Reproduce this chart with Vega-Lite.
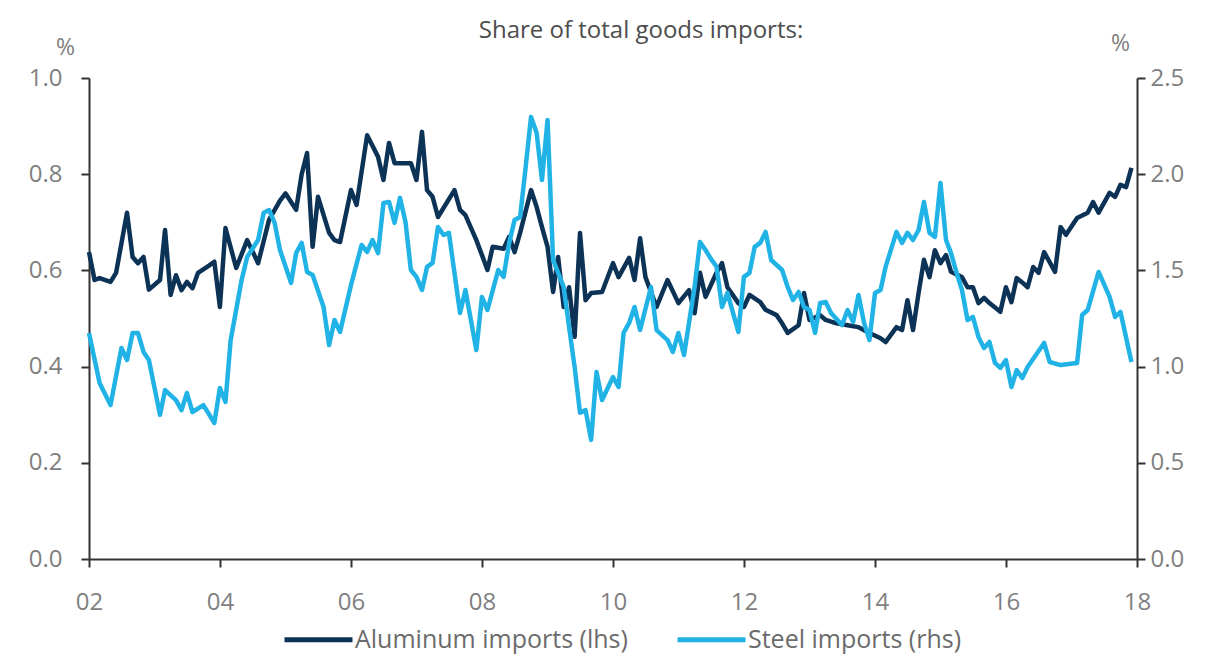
{
  "$schema": "https://vega.github.io/schema/vega-lite/v6.json",
  "width": 1048,
  "height": 481,
  "autosize": {"type": "none"},
  "padding": {"left": 89, "top": 78, "right": 88, "bottom": 101},
  "background": "white",
  "title": {
    "text": "Share of total goods imports:",
    "anchor": "middle",
    "dx": 28,
    "dy": 11,
    "offset": 0,
    "font": "Open Sans",
    "fontSize": 24,
    "fontWeight": "normal",
    "color": "#4d4d4d"
  },
  "config": {
    "view": {"stroke": null},
    "font": "Open Sans",
    "axis": {
      "grid": false,
      "domainColor": "#333333",
      "domainWidth": 2,
      "tickColor": "#333333",
      "tickWidth": 2,
      "tickSize": 8,
      "labelColor": "#7f7f7f",
      "labelFont": "Open Sans",
      "labelFontSize": 24,
      "titleColor": "#7f7f7f",
      "titleFont": "Open Sans",
      "titleFontSize": 23,
      "titleFontWeight": "normal"
    },
    "legend": {
      "labelColor": "#6b6b6b",
      "labelFont": "Open Sans",
      "labelFontSize": 25,
      "labelLimit": 500
    }
  },
  "datasets": {
    "aluminum": [
      {"date": "2002-01", "share": 0.638}, {"date": "2002-02", "share": 0.58}, {"date": "2002-03", "share": 0.584},
      {"date": "2002-05", "share": 0.576}, {"date": "2002-06", "share": 0.595}, {"date": "2002-08", "share": 0.72},
      {"date": "2002-09", "share": 0.628}, {"date": "2002-10", "share": 0.615}, {"date": "2002-11", "share": 0.628},
      {"date": "2002-12", "share": 0.56}, {"date": "2003-02", "share": 0.58}, {"date": "2003-03", "share": 0.684},
      {"date": "2003-04", "share": 0.549}, {"date": "2003-05", "share": 0.59}, {"date": "2003-06", "share": 0.559},
      {"date": "2003-07", "share": 0.576}, {"date": "2003-08", "share": 0.563}, {"date": "2003-09", "share": 0.595},
      {"date": "2003-11", "share": 0.61}, {"date": "2003-12", "share": 0.618}, {"date": "2004-01", "share": 0.524},
      {"date": "2004-02", "share": 0.688}, {"date": "2004-04", "share": 0.605}, {"date": "2004-06", "share": 0.663},
      {"date": "2004-08", "share": 0.615}, {"date": "2004-10", "share": 0.705}, {"date": "2004-12", "share": 0.745},
      {"date": "2005-01", "share": 0.76}, {"date": "2005-03", "share": 0.726}, {"date": "2005-04", "share": 0.8},
      {"date": "2005-05", "share": 0.844}, {"date": "2005-06", "share": 0.649}, {"date": "2005-07", "share": 0.753},
      {"date": "2005-09", "share": 0.678}, {"date": "2005-10", "share": 0.663}, {"date": "2005-11", "share": 0.659},
      {"date": "2006-01", "share": 0.767}, {"date": "2006-02", "share": 0.736}, {"date": "2006-04", "share": 0.881},
      {"date": "2006-06", "share": 0.836}, {"date": "2006-07", "share": 0.788}, {"date": "2006-08", "share": 0.865},
      {"date": "2006-09", "share": 0.823}, {"date": "2006-12", "share": 0.823}, {"date": "2007-01", "share": 0.788},
      {"date": "2007-02", "share": 0.888}, {"date": "2007-03", "share": 0.767}, {"date": "2007-04", "share": 0.753},
      {"date": "2007-05", "share": 0.711}, {"date": "2007-08", "share": 0.767}, {"date": "2007-09", "share": 0.726},
      {"date": "2007-10", "share": 0.715}, {"date": "2007-12", "share": 0.663}, {"date": "2008-02", "share": 0.601},
      {"date": "2008-03", "share": 0.649}, {"date": "2008-05", "share": 0.645}, {"date": "2008-06", "share": 0.67},
      {"date": "2008-07", "share": 0.638}, {"date": "2008-08", "share": 0.678}, {"date": "2008-10", "share": 0.767},
      {"date": "2008-11", "share": 0.732}, {"date": "2008-12", "share": 0.69}, {"date": "2009-01", "share": 0.649},
      {"date": "2009-02", "share": 0.555}, {"date": "2009-03", "share": 0.628}, {"date": "2009-04", "share": 0.524},
      {"date": "2009-05", "share": 0.565}, {"date": "2009-06", "share": 0.462}, {"date": "2009-07", "share": 0.678},
      {"date": "2009-08", "share": 0.538}, {"date": "2009-09", "share": 0.553}, {"date": "2009-11", "share": 0.555},
      {"date": "2010-01", "share": 0.615}, {"date": "2010-02", "share": 0.586}, {"date": "2010-04", "share": 0.626},
      {"date": "2010-05", "share": 0.58}, {"date": "2010-06", "share": 0.667}, {"date": "2010-07", "share": 0.586},
      {"date": "2010-09", "share": 0.524}, {"date": "2010-11", "share": 0.58}, {"date": "2011-01", "share": 0.532},
      {"date": "2011-03", "share": 0.559}, {"date": "2011-04", "share": 0.511}, {"date": "2011-05", "share": 0.595},
      {"date": "2011-06", "share": 0.545}, {"date": "2011-08", "share": 0.595}, {"date": "2011-09", "share": 0.615},
      {"date": "2011-10", "share": 0.565}, {"date": "2011-12", "share": 0.532}, {"date": "2012-01", "share": 0.524},
      {"date": "2012-02", "share": 0.549}, {"date": "2012-04", "share": 0.534}, {"date": "2012-05", "share": 0.518},
      {"date": "2012-07", "share": 0.507}, {"date": "2012-08", "share": 0.49}, {"date": "2012-09", "share": 0.47},
      {"date": "2012-11", "share": 0.486}, {"date": "2012-12", "share": 0.553}, {"date": "2013-01", "share": 0.497},
      {"date": "2013-03", "share": 0.507}, {"date": "2013-04", "share": 0.497}, {"date": "2013-06", "share": 0.49},
      {"date": "2013-08", "share": 0.486}, {"date": "2013-10", "share": 0.482}, {"date": "2013-12", "share": 0.47},
      {"date": "2014-02", "share": 0.459}, {"date": "2014-03", "share": 0.451}, {"date": "2014-05", "share": 0.482},
      {"date": "2014-06", "share": 0.476}, {"date": "2014-07", "share": 0.538}, {"date": "2014-08", "share": 0.476},
      {"date": "2014-09", "share": 0.553}, {"date": "2014-10", "share": 0.622}, {"date": "2014-11", "share": 0.586},
      {"date": "2014-12", "share": 0.642}, {"date": "2015-01", "share": 0.615}, {"date": "2015-02", "share": 0.632},
      {"date": "2015-03", "share": 0.597}, {"date": "2015-05", "share": 0.586}, {"date": "2015-06", "share": 0.565},
      {"date": "2015-07", "share": 0.565}, {"date": "2015-08", "share": 0.532}, {"date": "2015-09", "share": 0.543},
      {"date": "2015-10", "share": 0.532}, {"date": "2015-12", "share": 0.514}, {"date": "2016-01", "share": 0.565},
      {"date": "2016-02", "share": 0.534}, {"date": "2016-03", "share": 0.584}, {"date": "2016-04", "share": 0.575},
      {"date": "2016-05", "share": 0.565}, {"date": "2016-06", "share": 0.607}, {"date": "2016-07", "share": 0.595},
      {"date": "2016-08", "share": 0.638}, {"date": "2016-10", "share": 0.597}, {"date": "2016-11", "share": 0.69},
      {"date": "2016-12", "share": 0.674}, {"date": "2017-02", "share": 0.709}, {"date": "2017-04", "share": 0.72},
      {"date": "2017-05", "share": 0.742}, {"date": "2017-06", "share": 0.72}, {"date": "2017-08", "share": 0.761},
      {"date": "2017-09", "share": 0.753}, {"date": "2017-10", "share": 0.778}, {"date": "2017-11", "share": 0.773},
      {"date": "2017-12", "share": 0.813}
    ],
    "steel": [
      {"date": "2002-01", "share": 1.175}, {"date": "2002-03", "share": 0.915}, {"date": "2002-05", "share": 0.8},
      {"date": "2002-07", "share": 1.097}, {"date": "2002-08", "share": 1.034}, {"date": "2002-09", "share": 1.175},
      {"date": "2002-10", "share": 1.175}, {"date": "2002-11", "share": 1.076}, {"date": "2002-12", "share": 1.034},
      {"date": "2003-02", "share": 0.749}, {"date": "2003-03", "share": 0.878}, {"date": "2003-05", "share": 0.826},
      {"date": "2003-06", "share": 0.774}, {"date": "2003-07", "share": 0.863}, {"date": "2003-08", "share": 0.764},
      {"date": "2003-10", "share": 0.8}, {"date": "2003-12", "share": 0.707}, {"date": "2004-01", "share": 0.889},
      {"date": "2004-02", "share": 0.816}, {"date": "2004-03", "share": 1.138}, {"date": "2004-05", "share": 1.45},
      {"date": "2004-06", "share": 1.57}, {"date": "2004-08", "share": 1.658}, {"date": "2004-09", "share": 1.8},
      {"date": "2004-10", "share": 1.814}, {"date": "2004-11", "share": 1.747}, {"date": "2004-12", "share": 1.606},
      {"date": "2005-02", "share": 1.435}, {"date": "2005-03", "share": 1.59}, {"date": "2005-04", "share": 1.643},
      {"date": "2005-05", "share": 1.492}, {"date": "2005-06", "share": 1.476}, {"date": "2005-08", "share": 1.31},
      {"date": "2005-09", "share": 1.112}, {"date": "2005-10", "share": 1.242}, {"date": "2005-11", "share": 1.18},
      {"date": "2006-01", "share": 1.424}, {"date": "2006-03", "share": 1.632}, {"date": "2006-04", "share": 1.596},
      {"date": "2006-05", "share": 1.658}, {"date": "2006-06", "share": 1.59}, {"date": "2006-07", "share": 1.85},
      {"date": "2006-08", "share": 1.856}, {"date": "2006-09", "share": 1.747}, {"date": "2006-10", "share": 1.877},
      {"date": "2006-11", "share": 1.752}, {"date": "2006-12", "share": 1.502}, {"date": "2007-01", "share": 1.466},
      {"date": "2007-02", "share": 1.398}, {"date": "2007-03", "share": 1.518}, {"date": "2007-04", "share": 1.539},
      {"date": "2007-05", "share": 1.726}, {"date": "2007-06", "share": 1.684}, {"date": "2007-07", "share": 1.695},
      {"date": "2007-09", "share": 1.279}, {"date": "2007-10", "share": 1.398}, {"date": "2007-12", "share": 1.086},
      {"date": "2008-01", "share": 1.362}, {"date": "2008-02", "share": 1.294}, {"date": "2008-04", "share": 1.502},
      {"date": "2008-05", "share": 1.466}, {"date": "2008-06", "share": 1.643}, {"date": "2008-07", "share": 1.762},
      {"date": "2008-08", "share": 1.778}, {"date": "2008-09", "share": 2.038}, {"date": "2008-10", "share": 2.298},
      {"date": "2008-11", "share": 2.215}, {"date": "2008-12", "share": 1.97}, {"date": "2009-01", "share": 2.282},
      {"date": "2009-02", "share": 1.554}, {"date": "2009-04", "share": 1.414}, {"date": "2009-05", "share": 1.206},
      {"date": "2009-06", "share": 0.998}, {"date": "2009-07", "share": 0.76}, {"date": "2009-08", "share": 0.774},
      {"date": "2009-09", "share": 0.619}, {"date": "2009-10", "share": 0.972}, {"date": "2009-11", "share": 0.826},
      {"date": "2010-01", "share": 0.946}, {"date": "2010-02", "share": 0.894}, {"date": "2010-03", "share": 1.175},
      {"date": "2010-04", "share": 1.227}, {"date": "2010-05", "share": 1.31}, {"date": "2010-06", "share": 1.19},
      {"date": "2010-08", "share": 1.414}, {"date": "2010-09", "share": 1.19}, {"date": "2010-11", "share": 1.138},
      {"date": "2010-12", "share": 1.076}, {"date": "2011-01", "share": 1.175}, {"date": "2011-02", "share": 1.06},
      {"date": "2011-04", "share": 1.414}, {"date": "2011-05", "share": 1.648}, {"date": "2011-06", "share": 1.606},
      {"date": "2011-07", "share": 1.56}, {"date": "2011-08", "share": 1.52}, {"date": "2011-09", "share": 1.31},
      {"date": "2011-10", "share": 1.383}, {"date": "2011-12", "share": 1.18}, {"date": "2012-01", "share": 1.466},
      {"date": "2012-02", "share": 1.487}, {"date": "2012-03", "share": 1.622}, {"date": "2012-04", "share": 1.643},
      {"date": "2012-05", "share": 1.7}, {"date": "2012-06", "share": 1.554}, {"date": "2012-08", "share": 1.502},
      {"date": "2012-09", "share": 1.414}, {"date": "2012-10", "share": 1.346}, {"date": "2012-11", "share": 1.388},
      {"date": "2012-12", "share": 1.31}, {"date": "2013-01", "share": 1.294}, {"date": "2013-02", "share": 1.175},
      {"date": "2013-03", "share": 1.331}, {"date": "2013-04", "share": 1.336}, {"date": "2013-05", "share": 1.279},
      {"date": "2013-07", "share": 1.216}, {"date": "2013-08", "share": 1.294}, {"date": "2013-09", "share": 1.232},
      {"date": "2013-10", "share": 1.372}, {"date": "2013-11", "share": 1.227}, {"date": "2013-12", "share": 1.138},
      {"date": "2014-01", "share": 1.383}, {"date": "2014-02", "share": 1.398}, {"date": "2014-03", "share": 1.518},
      {"date": "2014-05", "share": 1.7}, {"date": "2014-06", "share": 1.643}, {"date": "2014-07", "share": 1.695},
      {"date": "2014-08", "share": 1.658}, {"date": "2014-09", "share": 1.71}, {"date": "2014-10", "share": 1.856},
      {"date": "2014-11", "share": 1.695}, {"date": "2014-12", "share": 1.674}, {"date": "2015-01", "share": 1.954},
      {"date": "2015-02", "share": 1.658}, {"date": "2015-03", "share": 1.59}, {"date": "2015-04", "share": 1.487},
      {"date": "2015-05", "share": 1.398}, {"date": "2015-06", "share": 1.242}, {"date": "2015-07", "share": 1.258},
      {"date": "2015-08", "share": 1.154}, {"date": "2015-09", "share": 1.097}, {"date": "2015-10", "share": 1.128},
      {"date": "2015-11", "share": 1.019}, {"date": "2015-12", "share": 0.993}, {"date": "2016-01", "share": 1.034},
      {"date": "2016-02", "share": 0.894}, {"date": "2016-03", "share": 0.982}, {"date": "2016-04", "share": 0.941},
      {"date": "2016-05", "share": 0.998}, {"date": "2016-08", "share": 1.123}, {"date": "2016-09", "share": 1.024},
      {"date": "2016-11", "share": 1.008}, {"date": "2017-02", "share": 1.019}, {"date": "2017-03", "share": 1.268},
      {"date": "2017-04", "share": 1.294}, {"date": "2017-06", "share": 1.492}, {"date": "2017-08", "share": 1.362},
      {"date": "2017-09", "share": 1.258}, {"date": "2017-10", "share": 1.284}, {"date": "2017-12", "share": 1.024}
    ]
  },
  "encoding": {
    "x": {
      "field": "date",
      "type": "temporal",
      "scale": {"type": "utc", "domain": [{"year": 2002, "utc": true}, {"year": 2018, "utc": true}]},
      "axis": {
        "title": null,
        "format": "%y",
        "tickCount": {"interval": "year", "step": 2},
        "labelPadding": 23,
        "labelFlush": false
      }
    }
  },
  "layer": [
    {
      "data": {"name": "aluminum"},
      "mark": {"type": "line", "strokeWidth": 4.5, "strokeJoin": "round"},
      "encoding": {
        "y": {
          "field": "share",
          "type": "quantitative",
          "scale": {"domain": [0, 1]},
          "axis": {
            "orient": "left",
            "values": [0, 0.2, 0.4, 0.6, 0.8, 1.0],
            "format": ".1f",
            "labelPadding": 19,
            "title": "%",
            "titleAngle": 0,
            "titleAlign": "center",
            "titleBaseline": "middle",
            "titleX": -24,
            "titleY": -31
          }
        },
        "color": {
          "datum": "Aluminum imports (lhs)",
          "type": "nominal",
          "scale": {
            "domain": ["Aluminum imports (lhs)", "Steel imports (rhs)"],
            "range": ["#0c3256", "#22b3e6"]
          },
          "legend": {
            "title": null,
            "orient": "none",
            "direction": "horizontal",
            "legendX": 193,
            "legendY": 525,
            "symbolType": "stroke",
            "symbolSize": 4624,
            "symbolStrokeWidth": 5,
            "labelOffset": 0,
            "columnPadding": 39
          }
        }
      }
    },
    {
      "data": {"name": "steel"},
      "mark": {"type": "line", "strokeWidth": 4.5, "strokeJoin": "round"},
      "encoding": {
        "y": {
          "field": "share",
          "type": "quantitative",
          "scale": {"domain": [0, 2.5]},
          "axis": {
            "orient": "right",
            "values": [0, 0.5, 1.0, 1.5, 2.0, 2.5],
            "format": ".1f",
            "labelPadding": 5,
            "title": "%",
            "titleAngle": 0,
            "titleAlign": "center",
            "titleBaseline": "middle",
            "titleX": -17,
            "titleY": -35
          }
        },
        "color": {"datum": "Steel imports (rhs)", "type": "nominal"}
      }
    }
  ],
  "resolve": {"scale": {"y": "independent"}}
}
